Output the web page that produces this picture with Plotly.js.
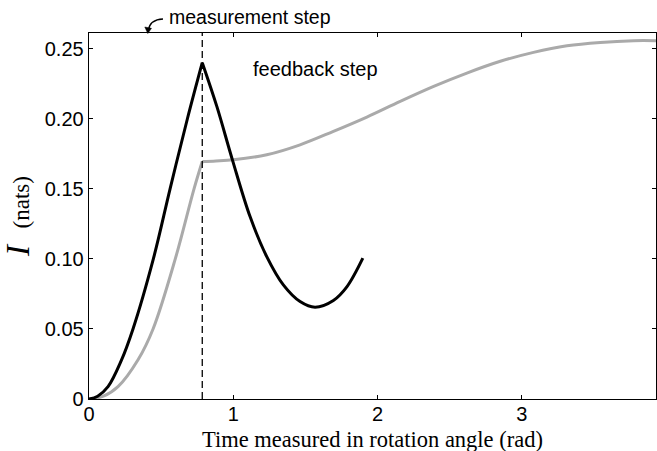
<!DOCTYPE html>
<html>
<head>
<meta charset="utf-8">
<script src="https://cdn.plot.ly/plotly-3.0.1.min.js"></script>
<style>html,body{margin:0;padding:0;background:#fff;}#chart{width:657px;height:451px;}</style>
</head>
<body>
<div id="chart"></div>
<script>
// measurement step position (rad)
const measureX = 0.785;

// black curve: rising part (before measurement) and after
const blackRiseX = [0, 0.06, 0.132, 0.222, 0.305, 0.446, 0.562, 0.682, 0.785];
const blackRiseY = [0, 0.002, 0.0088, 0.027, 0.05, 0.10, 0.15, 0.20, 0.240];
const blackFallX = [0.785, 0.886, 0.994, 1.117, 1.232, 1.347, 1.463, 1.567, 1.694, 1.787, 1.898];
const blackFallY = [0.240, 0.2088, 0.1707, 0.130, 0.1016, 0.0814, 0.0695, 0.0655, 0.0703, 0.080, 0.1005];

// gray curve: rising part and after feedback
const grayRiseX = [0, 0.1, 0.201, 0.34, 0.444, 0.598, 0.728, 0.785];
const grayRiseY = [0, 0.002, 0.0088, 0.028, 0.05, 0.10, 0.15, 0.1695];
const grayAfterX = [0.785, 0.88, 1.0, 1.232, 1.463, 1.694, 1.926, 2.157, 2.389, 2.619, 2.851, 3.081, 3.313, 3.544, 3.775, 3.93];
const grayAfterY = [0.1695, 0.1699, 0.1707, 0.1743, 0.1814, 0.191, 0.2012, 0.2124, 0.2231, 0.2326, 0.241, 0.2474, 0.2521, 0.2545, 0.2557, 0.2557];

const xTickVals = [0, 1, 2, 3];
const xTickText = ['0', '1', '2', '3'];
const yTickVals = [0, 0.05, 0.10, 0.15, 0.20, 0.25];
const yTickText = ['0', '0.05', '0.10', '0.15', '0.20', '0.25'];
const xTitle = 'Time measured in rotation angle (rad)';

const blackLine = {color: '#000000', width: 3, shape: 'spline', smoothing: 1};
const grayLine = {color: '#aaaaaa', width: 3, shape: 'spline', smoothing: 1};

const traces = [
  {x: grayRiseX, y: grayRiseY, mode: 'lines', line: grayLine, hoverinfo: 'skip'},
  {x: grayAfterX, y: grayAfterY, mode: 'lines', line: grayLine, hoverinfo: 'skip'},
  {x: blackRiseX, y: blackRiseY, mode: 'lines', line: blackLine, hoverinfo: 'skip'},
  {x: blackFallX, y: blackFallY, mode: 'lines', line: blackLine, hoverinfo: 'skip'}
];

const tickFont = {family: 'Liberation Sans, Arial, sans-serif', size: 20, color: '#000'};
const serif = 'Liberation Serif, Times New Roman, serif';

const layout = {
  width: 657, height: 451,
  margin: {l: 89, r: 1, t: 33, b: 52, pad: 0},
  paper_bgcolor: '#fff', plot_bgcolor: '#fff',
  showlegend: false,
  xaxis: {
    range: [0, 3.93], showline: true, linecolor: '#000', linewidth: 1.3,
    mirror: 'ticks', ticks: 'inside', ticklen: 4, tickwidth: 1, tickcolor: '#000',
    showgrid: false, zeroline: false, tickvals: xTickVals, ticktext: xTickText,
    tickfont: tickFont, ticklabelstandoff: -3
  },
  yaxis: {
    range: [0, 0.2612], showline: true, linecolor: '#000', linewidth: 1.3,
    mirror: 'ticks', ticks: 'inside', ticklen: 4, tickwidth: 1, tickcolor: '#000',
    showgrid: false, zeroline: false, tickvals: yTickVals, ticktext: yTickText,
    tickfont: tickFont,
    title: {text: '<i>I</i>  <span style="font-size:23px">(nats)</span>', font: {family: serif, size: 33, color: '#000'}}
  },
  shapes: [
    {type: 'line', xref: 'x', yref: 'paper', x0: measureX, x1: measureX, y0: 0, y1: 1,
     line: {color: '#000', width: 1.3, dash: '7px,4px'}},
    {type: 'path', xref: 'paper', yref: 'paper',
     path: 'M 0.1305,1.0383 Q 0.1076,1.0369 0.1049,1.0082',
     line: {color: '#000', width: 1.5}},
    {type: 'path', xref: 'paper', yref: 'paper',
     path: 'M 0.1037,0.9986 L 0.0984,1.0164 L 0.1102,1.0128 Z',
     fillcolor: '#000', line: {color: '#000', width: 0.5}}
  ],
  annotations: [
    {text: xTitle, xref: 'paper', yref: 'paper', x: 0.5, y: -0.0738,
     xanchor: 'center', yanchor: 'top', showarrow: false, borderpad: 0,
     font: {family: serif, size: 22.5, color: '#000'}},
    {text: 'measurement step', xref: 'paper', yref: 'paper', x: 0.1376, y: 1.0437,
     xanchor: 'left', yanchor: 'middle', showarrow: false,
     font: {family: 'Liberation Sans, Arial, sans-serif', size: 19.5, color: '#000'}},
    {text: 'feedback step', xref: 'x', yref: 'y', x: 1.123, y: 0.2355,
     xanchor: 'left', yanchor: 'middle', showarrow: false,
     font: {family: 'Liberation Sans, Arial, sans-serif', size: 20, color: '#000'}}
  ]
};

Plotly.newPlot('chart', traces, layout, {displayModeBar: false, staticPlot: true});
</script>
</body>
</html>
